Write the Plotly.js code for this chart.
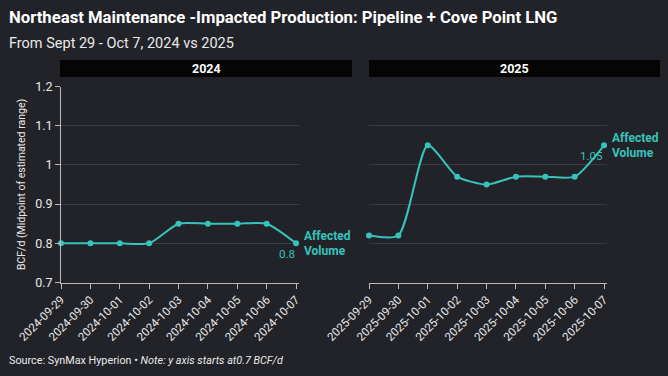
<!DOCTYPE html>
<html>
<head>
<meta charset="utf-8">
<script src="https://cdn.plot.ly/plotly-3.0.1.min.js"></script>
<style>html,body{margin:0;padding:0;background:#222328;}#chart{width:668px;height:376px;}</style>
</head>
<body>
<div id="chart"></div>
<script>
const dates2024 = ['2024-09-29','2024-09-30','2024-10-01','2024-10-02','2024-10-03','2024-10-04','2024-10-05','2024-10-06','2024-10-07'];
const values2024 = [0.8,0.8,0.8,0.8,0.85,0.85,0.85,0.85,0.8];
const dates2025 = ['2025-09-29','2025-09-30','2025-10-01','2025-10-02','2025-10-03','2025-10-04','2025-10-05','2025-10-06','2025-10-07'];
const values2025 = [0.82,0.82,1.05,0.97,0.95,0.97,0.97,0.97,1.05];
const yTicks = [0.7,0.8,0.9,1,1.1,1.2];

const teal = '#35c3bc';
const bg = '#222328';
const txt = '#e9e9ea';
const font = 'Roboto, "Noto Sans", sans-serif';
const W = 668, H = 376;
const px = v => v / W;
const py = v => 1 - v / H;

function series(x, y, xa, ya) {
  return {
    x: x, y: y, xaxis: xa, yaxis: ya, type: 'scatter', mode: 'lines+markers',
    line: {color: teal, width: 2, shape: 'spline', smoothing: 0.65},
    marker: {color: teal, size: 6}, cliponaxis: false, hoverinfo: 'x+y', showlegend: false
  };
}

const data = [series(dates2024, values2024, 'x', 'y'), series(dates2025, values2025, 'x2', 'y2')];

const xCommon = {
  type: 'date', tickformat: '%Y-%m-%d', dtick: 86400000, tickangle: -45,
  showgrid: false, zeroline: false, showline: true, linecolor: '#b9b9bc', linewidth: 1,
  ticks: 'outside', ticklen: 5, tickcolor: '#b9b9bc', tickfont: {family: font, size: 11.5, color: txt},
  fixedrange: true
};
const yCommon = {
  range: [0.7, 1.2], tickvals: yTicks, showgrid: true, gridcolor: '#3b3c41', gridwidth: 1,
  zeroline: false, fixedrange: true, domain: [py(282.5), py(86.5)]
};

const last2024 = dates2024[dates2024.length - 1];
const last2025 = dates2025[dates2025.length - 1];
const lv2024 = values2024[values2024.length - 1];
const lv2025 = values2025[values2025.length - 1];

function endLabels(xa, ya, xv, yv) {
  const f = {family: font, size: 12, color: teal};
  return [
    {xref: xa, yref: ya, x: xv, y: yv, xanchor: 'left', yanchor: 'bottom', xshift: 7, yshift: -1, borderpad: 0, showarrow: false,
     text: '<b>Affected</b>', font: f},
    {xref: xa, yref: ya, x: xv, y: yv, xanchor: 'left', yanchor: 'top', xshift: 7, yshift: 0, borderpad: 0, showarrow: false,
     text: '<b>Volume</b>', font: f},
    {xref: xa, yref: ya, x: xv, y: yv, xanchor: 'right', yanchor: 'middle', xshift: 1, yshift: -11, showarrow: false,
     text: String(yv), font: {family: font, size: 11.5, color: teal}}
  ];
}

function connector(xa, ya, xv, yv) {
  return {type: 'line', xref: xa, yref: ya, xsizemode: 'pixel', xanchor: xv, x0: 3, x1: 8, y0: yv, y1: yv,
          line: {color: teal, width: 1}};
}

const layout = {
  width: W, height: H, paper_bgcolor: bg, plot_bgcolor: bg,
  margin: {l: 0, r: 0, t: 0, b: 0},
  font: {family: font, color: txt},
  xaxis: Object.assign({}, xCommon, {domain: [px(61), px(298.5)], range: ['2024-09-29', '2024-10-07 02:00'], anchor: 'y'}),
  xaxis2: Object.assign({}, xCommon, {domain: [px(369), px(606.5)], range: ['2025-09-29', '2025-10-07 02:00'], anchor: 'y2'}),
  yaxis: Object.assign({}, yCommon, {
    anchor: 'x', showline: true, linecolor: '#b9b9bc', ticks: 'outside', ticklen: 5, tickcolor: '#b9b9bc',
    tickfont: {family: font, size: 12.5, color: txt},
    title: {text: 'BCF/d (Midpoint of estimated range)', font: {family: font, size: 10.5, color: txt}, standoff: 7}
  }),
  yaxis2: Object.assign({}, yCommon, {anchor: 'x2', showline: false, showticklabels: false, ticks: ''}),
  shapes: [
    {type: 'rect', xref: 'paper', yref: 'paper', x0: px(60), x1: px(352), y0: py(77), y1: py(60), fillcolor: '#050505', line: {width: 0}, layer: 'below'},
    {type: 'rect', xref: 'paper', yref: 'paper', x0: px(369), x1: px(660), y0: py(77), y1: py(60), fillcolor: '#050505', line: {width: 0}, layer: 'below'},
    connector('x', 'y', last2024, lv2024),
    connector('x2', 'y2', last2025, lv2025)
  ],
  annotations: [
    {xref: 'paper', yref: 'paper', x: px(7), y: py(18), xanchor: 'left', yanchor: 'middle', showarrow: false,
     text: '<b>Northeast Maintenance -Impacted Production: Pipeline + Cove Point LNG</b>', font: {family: font, size: 16.7, color: '#ffffff'}},
    {xref: 'paper', yref: 'paper', x: px(7), y: py(43), xanchor: 'left', yanchor: 'middle', showarrow: false,
     text: 'From Sept 29 - Oct 7, 2024 vs 2025', font: {family: font, size: 14.5, color: txt}},
    {xref: 'paper', yref: 'paper', x: px(206), y: py(68.5), xanchor: 'center', yanchor: 'middle', showarrow: false,
     text: '<b>2024</b>', font: {family: font, size: 12.5, color: '#ffffff'}},
    {xref: 'paper', yref: 'paper', x: px(514.5), y: py(68.5), xanchor: 'center', yanchor: 'middle', showarrow: false,
     text: '<b>2025</b>', font: {family: font, size: 12.5, color: '#ffffff'}},
    {xref: 'paper', yref: 'paper', x: px(7), y: py(360), xanchor: 'left', yanchor: 'middle', showarrow: false,
     text: 'Source: SynMax Hyperion • <i>Note: y axis starts at0.7 BCF/d</i>', font: {family: font, size: 10.8, color: txt}}
  ].concat(endLabels('x', 'y', last2024, lv2024), endLabels('x2', 'y2', last2025, lv2025))
};

Plotly.newPlot('chart', data, layout, {displayModeBar: false, staticPlot: true});
</script>
</body>
</html>
